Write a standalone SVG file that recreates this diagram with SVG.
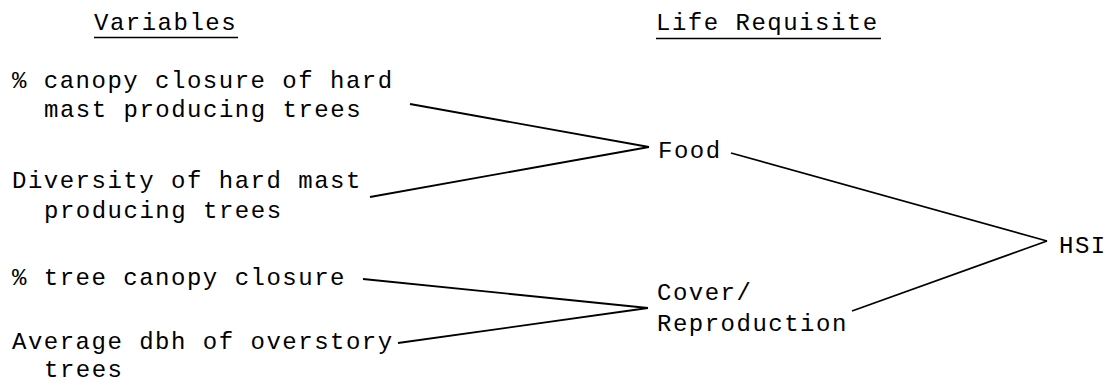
<svg xmlns="http://www.w3.org/2000/svg" width="1107" height="383" viewBox="0 0 1107 383">
<style>
text{font-family:"Liberation Mono","DejaVu Sans Mono",monospace;font-size:24px;letter-spacing:1.5px;fill:#000}
.c line{stroke:#000;stroke-width:1.8;fill:none}
.u{stroke:#000;stroke-width:1.6}
</style>
<rect width="1107" height="383" fill="#fff"/>
<g id="header-variables"><text x="94" y="30">Variables</text><line class="u" x1="94" y1="37.5" x2="238" y2="37.5"/></g>
<g id="header-life"><text x="656" y="30">Life Requisite</text><line class="u" x1="656" y1="38.5" x2="881" y2="38.5"/></g>
<g id="v1"><text x="12" y="88">% canopy closure of hard</text><text x="44" y="117">mast producing trees</text></g>
<g id="v2"><text x="12" y="188">Diversity of hard mast</text><text x="44" y="218">producing trees</text></g>
<g id="v3"><text x="12" y="285">% tree canopy closure</text></g>
<g id="v4"><text x="12" y="349">Average dbh of overstory</text><text x="44" y="377">trees</text></g>
<g id="food"><text x="658" y="158">Food</text></g>
<g id="cover"><text x="657" y="300">Cover/</text><text x="657" y="331">Reproduction</text></g>
<g id="hsi"><text x="1059" y="253">HSI</text></g>
<g class="c" id="connectors">
<line x1="410" y1="104" x2="649" y2="147"/>
<line x1="370" y1="197" x2="649" y2="147"/>
<line x1="363" y1="279" x2="648" y2="308"/>
<line x1="398" y1="343" x2="648" y2="308"/>
<line x1="731" y1="153" x2="1047" y2="241"/>
<line x1="852" y1="311" x2="1047" y2="241"/>
</g>
</svg>
